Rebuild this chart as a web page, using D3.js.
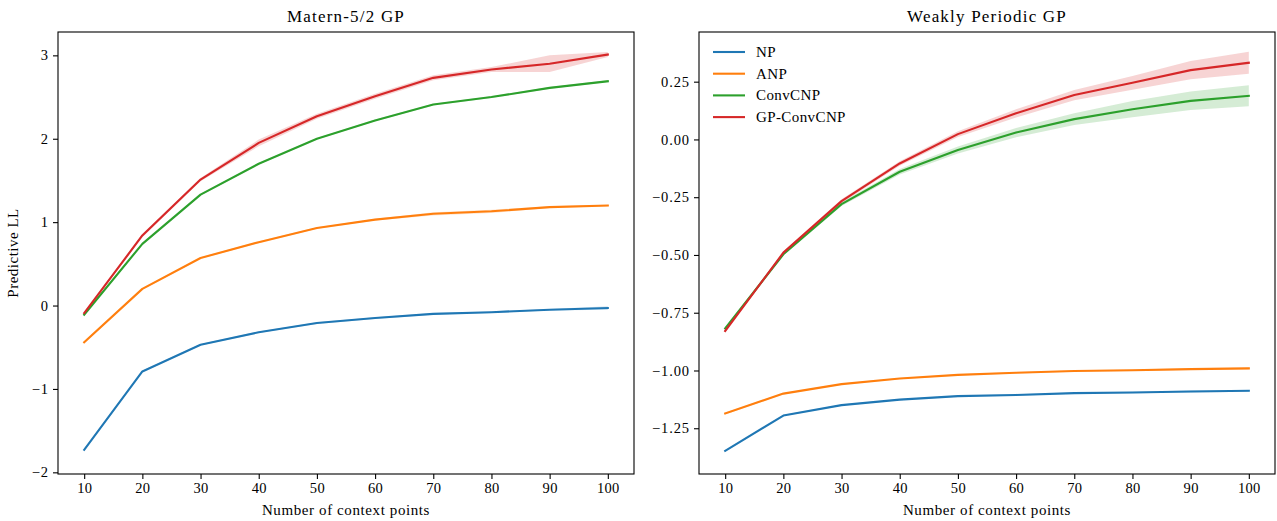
<!DOCTYPE html>
<html>
<head>
<meta charset="utf-8">
<script src="https://cdn.jsdelivr.net/npm/d3@7"></script>
<style>
  body { margin: 0; background: #fff; }
  text { font-family: "Liberation Serif", "DejaVu Serif", serif; fill: #000; }
</style>
</head>
<body>
<div id="chart"></div>
<script>
// context point counts
var contextPoints = [10, 20, 30, 40, 50, 60, 70, 80, 90, 100];
var modelNames = ["NP", "ANP", "ConvCNP", "GP-ConvCNP"];
var modelColors = ["#1f77b4", "#ff7f0e", "#2ca02c", "#d62728"];

// Matern-5/2 GP: mean predictive LL
var maternNP    = [-1.73, -0.79, -0.47, -0.32, -0.21, -0.15, -0.10, -0.08, -0.05, -0.03];
var maternANP   = [-0.44, 0.20, 0.57, 0.76, 0.93, 1.03, 1.10, 1.13, 1.18, 1.20];
var maternConv  = [-0.11, 0.74, 1.33, 1.70, 2.00, 2.22, 2.41, 2.50, 2.61, 2.69];
var maternGP    = [-0.09, 0.84, 1.51, 1.95, 2.27, 2.51, 2.73, 2.83, 2.90, 3.01];
// Matern-5/2 GP: error band half width
var maternNPErr   = [0.02, 0.01, 0.01, 0.01, 0.01, 0.01, 0.01, 0.01, 0.01, 0.02];
var maternANPErr  = [0.01, 0.01, 0.01, 0.01, 0.01, 0.01, 0.02, 0.02, 0.01, 0.01];
var maternConvErr = [0.01, 0.01, 0.01, 0.01, 0.01, 0.01, 0.01, 0.01, 0.01, 0.01];
var maternGPErr   = [0.01, 0.02, 0.02, 0.04, 0.03, 0.03, 0.03, 0.03, 0.10, 0.03];

// Weakly periodic GP: mean predictive LL
var periodicNP   = [-1.348, -1.195, -1.150, -1.126, -1.111, -1.106, -1.098, -1.095, -1.091, -1.088];
var periodicANP  = [-1.186, -1.100, -1.059, -1.035, -1.019, -1.010, -1.002, -0.999, -0.994, -0.991];
var periodicConv = [-0.818, -0.497, -0.280, -0.140, -0.046, 0.030, 0.088, 0.131, 0.167, 0.189];
var periodicGP   = [-0.829, -0.490, -0.267, -0.104, 0.023, 0.113, 0.192, 0.245, 0.300, 0.332];
// Weakly periodic GP: error band half width
var periodicNPErr   = [0.004, 0.003, 0.003, 0.003, 0.003, 0.003, 0.003, 0.003, 0.004, 0.004];
var periodicANPErr  = [0.004, 0.003, 0.003, 0.003, 0.003, 0.003, 0.003, 0.003, 0.004, 0.004];
var periodicConvErr = [0.006, 0.005, 0.008, 0.012, 0.015, 0.02, 0.025, 0.035, 0.04, 0.045];
var periodicGPErr   = [0.006, 0.005, 0.008, 0.010, 0.012, 0.018, 0.022, 0.030, 0.040, 0.048];

var maternTicks = [-2, -1, 0, 1, 2, 3];
var periodicTicks = [-1.25, -1.00, -0.75, -0.50, -0.25, 0.00, 0.25];

var panels = [
  { title: "Matern-5/2 GP", left: 58, yDomain: [-2.02, 3.28], ticks: maternTicks, fmt: d3.format("d"),
    series: [maternNP, maternANP, maternConv, maternGP],
    errs: [maternNPErr, maternANPErr, maternConvErr, maternGPErr], ylabel: true, legend: false },
  { title: "Weakly Periodic GP", left: 699, yDomain: [-1.448, 0.465], ticks: periodicTicks, fmt: d3.format(".2f"),
    series: [periodicNP, periodicANP, periodicConv, periodicGP],
    errs: [periodicNPErr, periodicANPErr, periodicConvErr, periodicGPErr], ylabel: false, legend: true }
];

var W = 1277, H = 521;
var plotTop = 32, plotW = 576, plotH = 442;

var svg = d3.select("#chart").append("svg")
  .attr("width", W).attr("height", H);

function minusFix(s) { return s.replace("-", "\u2212"); }

panels.forEach(function(p) {
  var g = svg.append("g").attr("transform", "translate(" + p.left + "," + plotTop + ")");

  var x = d3.scaleLinear().domain([5.5, 104.5]).range([0, plotW]);
  var y = d3.scaleLinear().domain(p.yDomain).range([plotH, 0]);

  // bands
  p.series.forEach(function(s, k) {
    var area = d3.area()
      .x(function(d, i) { return x(contextPoints[i]); })
      .y0(function(d, i) { return y(d - p.errs[k][i]); })
      .y1(function(d, i) { return y(d + p.errs[k][i]); });
    g.append("path").datum(s)
      .attr("d", area)
      .attr("fill", modelColors[k])
      .attr("fill-opacity", 0.2);
  });

  // lines
  p.series.forEach(function(s, k) {
    var line = d3.line()
      .x(function(d, i) { return x(contextPoints[i]); })
      .y(function(d) { return y(d); });
    g.append("path").datum(s)
      .attr("d", line)
      .attr("fill", "none")
      .attr("stroke", modelColors[k])
      .attr("stroke-width", 2.1)
      .attr("stroke-linejoin", "round")
      .attr("stroke-linecap", "square");
  });

  // axes
  var xAxis = g.append("g")
    .attr("transform", "translate(0," + plotH + ")")
    .call(d3.axisBottom(x).tickValues(contextPoints).tickSize(5).tickPadding(4).tickFormat(d3.format("d")));
  var yAxis = g.append("g")
    .call(d3.axisLeft(y).tickValues(p.ticks).tickSize(5).tickPadding(4).tickFormat(function(d) { return minusFix(p.fmt(d)); }));
  [xAxis, yAxis].forEach(function(a) {
    a.select(".domain").remove();
    a.selectAll("line").attr("stroke", "#000").attr("stroke-width", 1.1);
    a.selectAll("text").attr("font-size", 14.5).attr("letter-spacing", 0.3)
      .attr("font-family", "Liberation Serif, DejaVu Serif, serif").attr("fill", "#000");
  });
  yAxis.selectAll("text").attr("letter-spacing", 0.9);

  // frame
  g.append("rect")
    .attr("width", plotW).attr("height", plotH)
    .attr("fill", "none").attr("stroke", "#000").attr("stroke-width", 1.1);

  // title
  g.append("text")
    .attr("x", plotW / 2).attr("y", -10)
    .attr("text-anchor", "middle")
    .attr("font-size", 17)
    .attr("letter-spacing", 1.2)
    .text(p.title);

  // x label
  g.append("text")
    .attr("x", plotW / 2).attr("y", plotH + 41)
    .attr("text-anchor", "middle")
    .attr("font-size", 15)
    .attr("letter-spacing", 0.6)
    .text("Number of context points");

  if (p.ylabel) {
    g.append("text")
      .attr("transform", "translate(-40," + plotH / 2 + ") rotate(-90)")
      .attr("text-anchor", "middle")
      .attr("font-size", 15)
      .attr("letter-spacing", 0.5)
      .text("Predictive LL");
  }

  if (p.legend) {
    var lg = g.append("g").attr("transform", "translate(14,20)");
    modelNames.forEach(function(name, k) {
      var row = lg.append("g").attr("transform", "translate(0," + (k * 21.7) + ")");
      row.append("line")
        .attr("x1", 0).attr("x2", 32)
        .attr("stroke", modelColors[k]).attr("stroke-width", 2.1);
      row.append("text")
        .attr("x", 43).attr("y", 5)
        .attr("font-size", 15)
        .attr("letter-spacing", 0.4)
        .text(name);
    });
  }
});
</script>
</body>
</html>
